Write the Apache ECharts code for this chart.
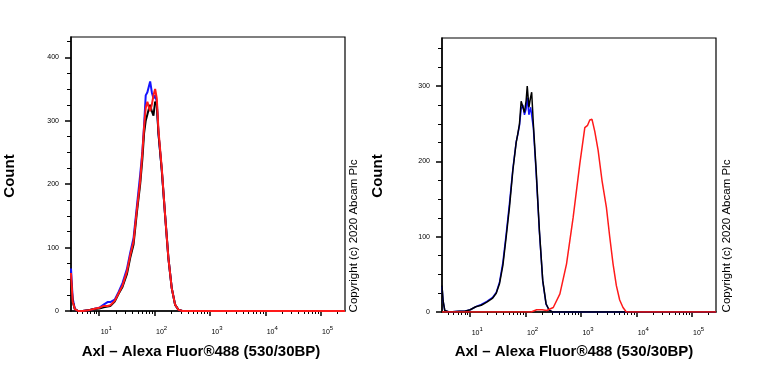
<!DOCTYPE html>
<html>
  <head>
    <meta charset="UTF-8" />
    <title>Axl flow cytometry</title>
    <style>
      html, body { margin: 0; padding: 0; background: #fff; }
      #chart { width: 768px; height: 384px; }
    </style>
    <script src="https://cdn.jsdelivr.net/npm/echarts@6/dist/echarts.min.js"></script>
  </head>
  <body>
    <div id="chart"></div>
    <script>
      // x values are log10 of the fluorescence intensity
      var xLeft = [0.49, 0.52, 0.56, 0.62, 0.7, 0.8, 0.9, 1.0, 1.08, 1.15, 1.2, 1.28, 1.35, 1.42, 1.5, 1.56, 1.62, 1.68, 1.74, 1.78,
        1.81, 1.84, 1.87, 1.9, 1.92, 1.95, 1.98, 2.01, 2.04, 2.07, 2.13, 2.19, 2.25, 2.31, 2.37, 2.43, 2.5, 5.44];
      var leftBlue = [67, 20, 3, 0, 0, 1, 3, 5, 10, 14, 14, 18, 30, 44, 66, 92, 115, 165, 215, 252,
        292, 340, 345, 355, 362, 345, 335, 340, 330, 280, 222, 151, 83, 36, 10, 2, 0, 0];
      var leftBlack = [50, 15, 3, 0, 0, 1, 3, 4, 6, 7, 8, 15, 27, 38, 58, 84, 105, 155, 200, 240,
        280, 300, 310, 320, 325, 315, 308, 330, 325, 280, 222, 151, 83, 36, 10, 2, 0, 0];
      var leftRed = [60, 15, 3, 0, 0, 1, 3, 5, 8, 8, 9, 16, 28, 40, 62, 88, 110, 160, 205, 250,
        290, 320, 330, 320, 315, 325, 340, 350, 335, 285, 225, 151, 83, 36, 10, 2, 0, 0];

      var xRight = [0.49, 0.51, 0.54, 0.62, 0.8, 0.9, 1.0, 1.1, 1.2, 1.3, 1.4, 1.47, 1.53, 1.59, 1.65, 1.71, 1.77, 1.83,
        1.86, 1.89, 1.92, 1.95, 1.98, 2.01, 2.03, 2.06, 2.09, 2.11, 2.14, 2.19, 2.25, 2.31, 2.37, 2.43, 2.49, 5.44];
      var rightBlue = [34, 14, 2, 0, 1, 1, 3, 7, 10, 14, 19, 26, 40, 66, 104, 145, 190, 226,
        236, 248, 270, 275, 262, 270, 285, 262, 272, 270, 245, 186, 106, 41, 10, 2, 0, 0];
      var rightBlack = [35, 15, 2, 0, 1, 1, 3, 7, 9, 13, 18, 25, 38, 62, 100, 140, 188, 225,
        237, 250, 280, 282, 265, 281, 300, 272, 285, 292, 250, 190, 108, 42, 11, 2, 0, 0];
      var xRightRed = [0.49, 2.1, 2.2, 2.3, 2.38, 2.5, 2.62, 2.74, 2.86, 2.98, 3.07, 3.12, 3.16,
        3.2, 3.25, 3.31, 3.38, 3.46, 3.52, 3.58, 3.64, 3.7, 3.76, 3.82, 5.44];
      var rightRed = [0, 0, 3, 3, 2, 6, 24, 64, 126, 197, 245, 248, 255,
        256, 240, 215, 175, 139, 100, 64, 35, 16, 6, 0, 0];

      var decades = [1, 2, 3, 4, 5];
      var countTicksLeft = [0, 100, 200, 300, 400];
      var countMinorLeft = [25, 50, 75, 125, 150, 175, 225, 250, 275, 325, 350, 375, 425];
      var countTicksRight = [0, 100, 200, 300];
      var countMinorRight = [25, 50, 75, 125, 150, 175, 225, 250, 275, 325, 350];
      var xTitle = 'Axl – Alexa Fluor®488 (530/30BP)';
      var yTitle = 'Count';
      var copyright = 'Copyright (c) 2020 Abcam Plc';

      var FONT = 'Arial, "Liberation Sans", sans-serif';
      var X_MIN = 0.49, X_MAX = 5.44;

      // log minor ticks 2..9 inside every decade
      var logMinor = [];
      for (var n = 0; n < 6; n++) {
        for (var k = 2; k < 10; k++) {
          var v = n + Math.log10(k);
          if (v > X_MIN && v < X_MAX) logMinor.push(v);
        }
      }

      function pairs(xs, ys) {
        return xs.map(function (x, i) { return [x, ys[i]]; });
      }

      var myChart = echarts.init(document.getElementById('chart'), null, { renderer: 'canvas' });

      function mainX(g) {
        return {
          type: 'value', gridIndex: g, position: 'bottom', min: X_MIN, max: X_MAX,
          axisLine: { lineStyle: { color: '#000', width: 1.5 } },
          axisTick: { customValues: decades, length: 5, lineStyle: { color: '#000', width: 1.5 } },
          axisLabel: {
            customValues: decades, margin: 13, padding: [0, 0, 0, 14],
            formatter: function (v) { return '{b|10}{s|' + v + '}'; },
            rich: {
              b: { fontSize: 7, fontFamily: FONT, color: '#000', padding: [5, 0, 0, 0] },
              s: { fontSize: 6, fontFamily: FONT, color: '#000', padding: [0, 0, 3, 0] }
            }
          },
          splitLine: { show: false }
        };
      }
      function minorX(g) {
        return {
          type: 'value', gridIndex: g, position: 'bottom', min: X_MIN, max: X_MAX,
          axisLine: { show: false },
          axisTick: { customValues: logMinor, length: 3, lineStyle: { color: '#000', width: 1 } },
          axisLabel: { show: false },
          splitLine: { show: false }
        };
      }
      function mainY(g, max, ticks) {
        return {
          type: 'value', gridIndex: g, position: 'left', min: 0, max: max,
          axisLine: { show: true, lineStyle: { color: '#000', width: 1.5 } },
          axisTick: { show: true, customValues: ticks, length: 6, lineStyle: { color: '#000', width: 1.5 } },
          axisLabel: { customValues: ticks, fontSize: 7, fontFamily: FONT, color: '#000', margin: 12 },
          splitLine: { show: false }
        };
      }
      function minorY(g, max, ticks) {
        return {
          type: 'value', gridIndex: g, position: 'left', min: 0, max: max,
          axisLine: { show: false },
          axisTick: { show: true, customValues: ticks, length: 4, lineStyle: { color: '#000', width: 1 } },
          axisLabel: { show: false },
          splitLine: { show: false }
        };
      }
      function line(xi, yi, xs, ys, color, width) {
        return {
          type: 'line', xAxisIndex: xi, yAxisIndex: yi, data: pairs(xs, ys),
          showSymbol: false, symbol: 'none', silent: true,
          lineStyle: { color: color, width: width }
        };
      }
      function label(x, y, text, size, weight, rotate) {
        return {
          type: 'text', x: x, y: y, rotation: rotate ? Math.PI / 2 : 0,
          style: {
            text: text, fontSize: size, fontWeight: weight, fontFamily: FONT, fill: '#000',
            align: 'center', verticalAlign: 'middle'
          }
        };
      }

      var option = {
        animation: false,
        backgroundColor: '#fff',
        grid: [
          { left: 71, top: 37, width: 274, height: 274, show: true, borderColor: '#000', borderWidth: 1.2 },
          { left: 442, top: 38, width: 274, height: 274, show: true, borderColor: '#000', borderWidth: 1.2 }
        ],
        xAxis: [mainX(0), minorX(0), mainX(1), minorX(1)],
        yAxis: [
          mainY(0, 432, countTicksLeft), minorY(0, 432, countMinorLeft),
          mainY(1, 364, countTicksRight), minorY(1, 364, countMinorRight)
        ],
        series: [
          line(0, 0, xLeft, leftBlue, '#1414ff', 2),
          line(0, 0, xLeft, leftBlack, '#000000', 2),
          line(0, 0, xLeft, leftRed, '#ff1a1a', 2),
          line(2, 2, xRight, rightBlue, '#1414ff', 1.5),
          line(2, 2, xRight, rightBlack, '#000000', 1.5),
          line(2, 2, xRightRed, rightRed, '#ff1a1a', 1.5)
        ],
        graphic: [
          label(10, 176, yTitle, 15, 'bold', true),
          label(378, 176, yTitle, 15, 'bold', true),
          label(354, 236, copyright, 11.5, 'normal', true),
          label(727, 236, copyright, 11.5, 'normal', true),
          label(201, 352, xTitle, 15, 'bold', false),
          label(574, 352, xTitle, 15, 'bold', false)
        ]
      };

      myChart.setOption(option);
    </script>
  </body>
</html>
